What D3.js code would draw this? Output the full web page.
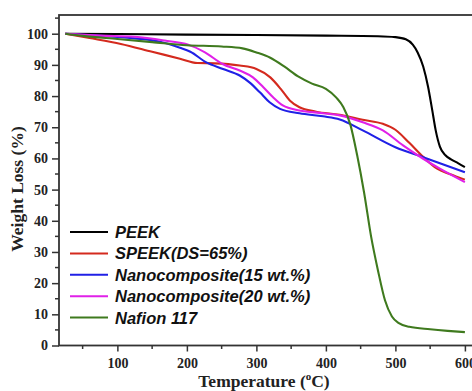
<!DOCTYPE html>
<html>
<head>
<meta charset="utf-8">
<script src="https://cdn.jsdelivr.net/npm/d3@7"></script>
<style>
  body { margin: 0; background: #fff; }
  svg { display: block; }
</style>
</head>
<body>
<div id="chart"></div>
<script>
// series: [temperature °C, weight %]
var peek = [[25,100],[100,99.9],[200,99.7],[300,99.6],[400,99.4],[475,99.2],[500,98.9],[515,98.2],[525,96.5],[532,94],[540,89.5],[547,83],[553,75.5],[558,69],[564,63.8],[572,61],[580,59.7],[590,58.5],[600,57.2]];
var speek = [[25,100],[60,98.6],[105,96.7],[150,94.2],[190,92],[215,90.6],[240,90.5],[276,89.8],[300,88.7],[320,86],[335,82.3],[348,78.6],[362,76.4],[386,75],[420,74],[453,72.4],[482,71.1],[500,69.2],[520,65],[540,60.5],[560,56.7],[578,55],[600,53.2]];
var nano15 = [[25,100],[75,99.3],[125,98.5],[160,97.5],[190,95.5],[205,94.2],[228,90.8],[252,88.7],[276,86.6],[290,84.4],[305,81.2],[319,78],[334,75.9],[362,74.5],[396,73.5],[420,72.5],[453,69],[500,63.6],[540,60.4],[560,58.8],[600,55.6]];
var nano20 = [[25,100],[75,99.4],[125,99],[168,97.8],[202,96.5],[226,94],[252,90.2],[276,88.2],[295,86],[310,82.8],[324,79.6],[338,77],[362,75.4],[396,74.5],[420,73.8],[453,71.6],[482,69],[511,64.2],[540,59.9],[564,56.7],[600,52.4]];
var nafion = [[25,100],[50,99.3],[100,98.3],[150,97.3],[200,96.3],[250,95.9],[280,95.3],[300,94],[320,92.3],[340,89.5],[360,86.3],[380,84],[400,82.3],[415,79.5],[425,76.5],[435,71],[445,61],[455,49],[465,35],[475,24],[485,14.5],[495,9.3],[505,7.2],[520,6],[550,5.2],[575,4.7],[600,4.3]];

var seriesNames = ["PEEK", "SPEEK(DS=65%)", "Nanocomposite(15 wt.%)", "Nanocomposite(20 wt.%)", "Nafion 117"];
var seriesData = [peek, speek, nano15, nano20, nafion];
var seriesColors = ["#000000", "#d42a1e", "#2020e6", "#e020e8", "#3f7a1e"];

var xTicks = [100, 200, 300, 400, 500, 600];
var yTicks = [0, 10, 20, 30, 40, 50, 60, 70, 80, 90, 100];

var width = 472, height = 391;
var margin = {top: 15, left: 59, bottom: 45};
var serif = "'Liberation Serif', 'Times New Roman', serif";

var svg = d3.select("#chart").append("svg")
    .attr("width", width)
    .attr("height", height);

var x = d3.scaleLinear().domain([16, 620]).range([margin.left, 478.8]);
var y = d3.scaleLinear().domain([0, 106]).range([height - margin.bottom - 0.5, margin.top]);

svg.append("clipPath").attr("id", "clip")
  .append("rect")
    .attr("x", margin.left).attr("y", margin.top)
    .attr("width", 480 - margin.left).attr("height", y(0) - margin.top);

// curves
var line = d3.line()
    .x(function(d) { return x(d[0]); })
    .y(function(d) { return y(d[1]); })
    .curve(d3.curveMonotoneX);

svg.append("g").attr("clip-path", "url(#clip)")
  .selectAll("path")
  .data(seriesData)
  .enter().append("path")
    .attr("d", line)
    .attr("fill", "none")
    .attr("stroke", function(d, i) { return seriesColors[i]; })
    .attr("stroke-width", 2.1);

// frame
svg.append("rect")
    .attr("x", margin.left).attr("y", margin.top)
    .attr("width", 500).attr("height", y(0) - margin.top)
    .attr("fill", "none")
    .attr("stroke", "#333")
    .attr("stroke-width", 1.8);

// x axis
var xMinor = d3.range(50, 620, 100);
var xAxis = svg.append("g").attr("transform", "translate(0," + y(0) + ")");
xAxis.call(d3.axisBottom(x).tickValues(xTicks).tickSize(6).tickPadding(7).tickFormat(d3.format("d")));
xAxis.select(".domain").remove();
xAxis.selectAll(".tick line").attr("stroke", "#333").attr("stroke-width", 1.5);
xAxis.selectAll("text")
    .attr("font-family", serif)
    .attr("font-weight", "bold").attr("font-size", 14).attr("fill", "#222");
xAxis.selectAll(".minor").data(xMinor).enter().append("line")
    .attr("class", "minor")
    .attr("x1", function(d) { return x(d); }).attr("x2", function(d) { return x(d); })
    .attr("y1", 0).attr("y2", 3.5)
    .attr("stroke", "#333").attr("stroke-width", 1.5);

// y axis
var yMinor = d3.range(5, 106, 10);
var yAxis = svg.append("g").attr("transform", "translate(" + margin.left + ",0)");
yAxis.call(d3.axisLeft(y).tickValues(yTicks).tickSize(7).tickPadding(4));
yAxis.select(".domain").remove();
yAxis.selectAll(".tick line").attr("stroke", "#333").attr("stroke-width", 1.5);
yAxis.selectAll("text")
    .attr("font-family", serif)
    .attr("font-weight", "bold").attr("font-size", 14).attr("fill", "#222");
yAxis.selectAll(".minor").data(yMinor).enter().append("line")
    .attr("class", "minor")
    .attr("y1", function(d) { return y(d); }).attr("y2", function(d) { return y(d); })
    .attr("x1", 0).attr("x2", -4)
    .attr("stroke", "#333").attr("stroke-width", 1.5);

// axis titles
var xTitle = svg.append("text")
    .attr("x", 264).attr("y", 387)
    .attr("text-anchor", "middle")
    .attr("font-family", serif)
    .attr("font-weight", "bold").attr("font-size", 17.5).attr("fill", "#222");
xTitle.append("tspan").text("Temperature (");
xTitle.append("tspan").attr("font-size", 11).attr("dy", -7).text("o");
xTitle.append("tspan").attr("dy", 7).text("C)");

svg.append("text")
    .attr("transform", "translate(23,189) rotate(-90)")
    .attr("text-anchor", "middle")
    .attr("font-family", serif)
    .attr("font-weight", "bold").attr("font-size", 17.5).attr("fill", "#222")
    .text("Weight Loss (%)");

// legend
var legend = svg.append("g").selectAll("g")
    .data(seriesNames)
    .enter().append("g")
    .attr("transform", function(d, i) { return "translate(70," + (232 + i * 21.4) + ")"; });
legend.append("line")
    .attr("x1", 0).attr("x2", 38)
    .attr("stroke", function(d, i) { return seriesColors[i]; })
    .attr("stroke-width", 2);
legend.append("text")
    .attr("x", 45).attr("y", 6)
    .attr("font-family", "'Liberation Sans', Arial, sans-serif")
    .attr("font-weight", "bold").attr("font-style", "italic")
    .attr("font-size", 16.5).attr("fill", "#111")
    .text(function(d) { return d; });
</script>
</body>
</html>
